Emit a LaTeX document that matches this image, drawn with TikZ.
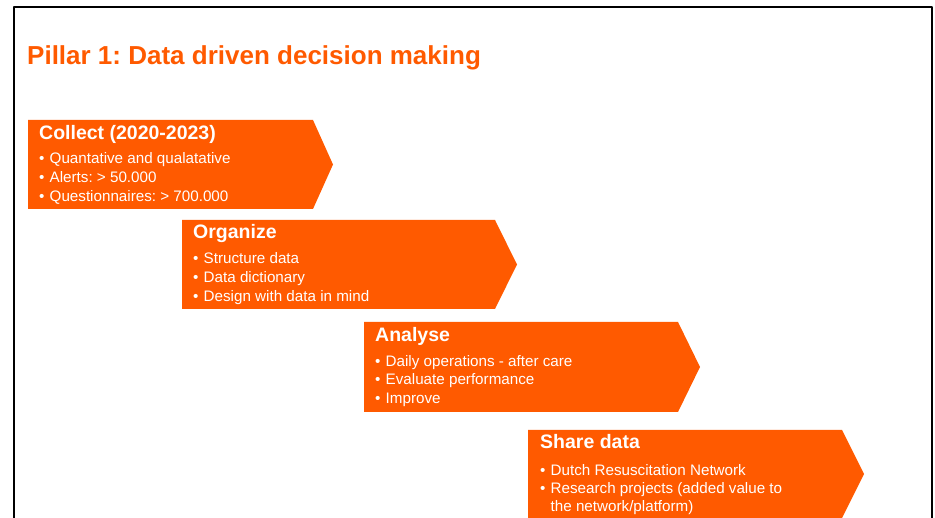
\documentclass[tikz,border=0pt]{standalone}
\usepackage{fontspec}
\setmainfont{Liberation Sans}
\definecolor{pillar}{RGB}{255,90,0}
\tikzset{
  stage/.style={fill=pillar},
  head/.style={font=\bfseries\fontsize{19.5}{19.5}\selectfont,text=white,inner sep=0pt,anchor=base west},
  item/.style={font=\fontsize{15.2}{15.2}\selectfont,text=white,inner sep=0pt,anchor=base west},
}
\newcommand{\bul}{\makebox[10.5pt][l]{\textbullet}}
\frenchspacing
\begin{document}
\begin{tikzpicture}[x=1pt,y=-1pt,line join=round]
\useasboundingbox(0,0) rectangle (935,518);
% frame
\draw[line width=2pt](14,525)--(14,7)--(932,7)--(932,525);
\node[font=\bfseries\fontsize{26}{26}\selectfont,text=pillar,inner sep=0pt,anchor=base west](title) at (27,65) {Pillar 1: Data driven decision making};
% collect
\fill[stage](28,120)--(313,120)--(333,164.5)--(313,209)--(28,209)--cycle;
\node[head](collect) at (39,140) {Collect (2020-2023)};
\foreach \t [count=\i] in {{Quantative and qualatative},{Alerts: > 50.000},{Questionnaires: > 700.000}}
  \node[item](collect-\i) at (39,{145+19*\i}) {\bul\t};
% organize
\fill[stage](182,220)--(495,220)--(517,264.5)--(495,309)--(182,309)--cycle;
\node[head](organize) at (193,239) {Organize};
\foreach \t [count=\i] in {{Structure data},{Data dictionary},{Design with data in mind}}
  \node[item](organize-\i) at (193,{245+19*\i}) {\bul\t};
% analyse
\fill[stage](364,322)--(678,322)--(700,367)--(678,412)--(364,412)--cycle;
\node[head](analyse) at (375,342) {Analyse};
\foreach \t [count=\i] in {{Daily operations - after care},{Evaluate performance},{Improve}}
  \node[item](analyse-\i) at (375,{348+18.5*\i}) {\bul\t};
% share
\fill[stage](528,430)--(842,430)--(864,474)--(842,518)--(528,518)--cycle;
\node[head](share) at (540,449) {Share data};
\foreach \t [count=\i] in {{Dutch Resuscitation Network},{Research projects (added value to},{\hphantom{\bul}the network/platform)}}
  \node[item](share-\i) at (540,{457.5+18*\i}) {\ifnum\i<3 \bul\fi\t};
\end{tikzpicture}
\end{document}
